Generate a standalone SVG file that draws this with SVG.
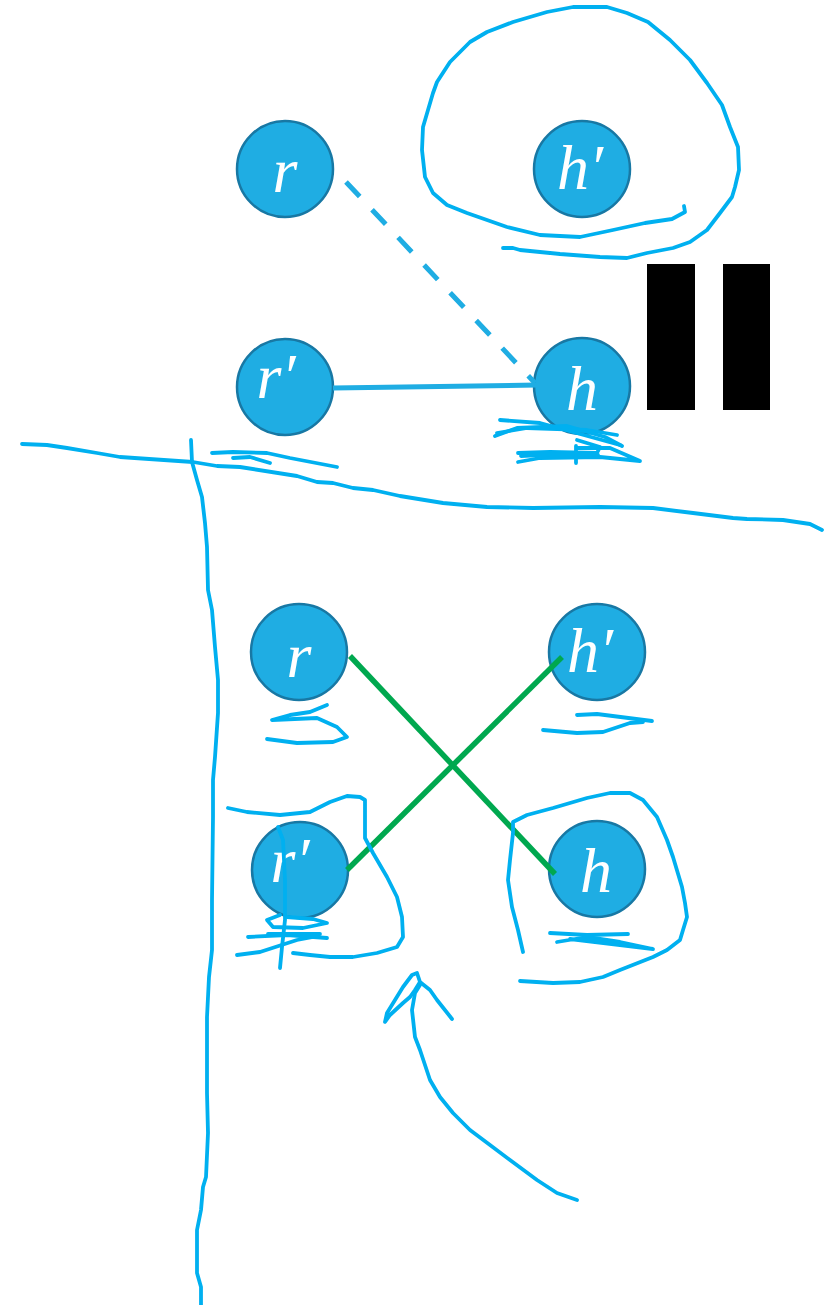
<svg xmlns="http://www.w3.org/2000/svg" width="826" height="1305" viewBox="0 0 826 1305">
  <style>
    .node circle { fill: #1fade3; stroke: #1878a4; stroke-width: 2.5; }
    .node text { fill: #ffffff; font-family: "Liberation Serif", "DejaVu Serif", serif; font-style: italic; font-size: 64px; text-anchor: middle; }
    .ink { fill: none; stroke: #00b0f0; stroke-width: 3.8; stroke-linecap: round; stroke-linejoin: round; }
    .edge { fill: none; stroke: #1fade3; stroke-width: 5; }
    .dash { stroke-dasharray: 20 18; }
    .green { fill: none; stroke: #00a84f; stroke-width: 5.5; }
    .bar { fill: #000000; }
  </style>

  <rect width="826" height="1305" fill="#ffffff"/>

  <!-- upper panel nodes -->
  <g id="node-r-top" class="node">
    <circle cx="285" cy="169" r="48"/>
    <text x="285" y="192">r</text>
  </g>
  <g id="node-hp-top" class="node">
    <circle cx="582" cy="169" r="48"/>
    <text x="580" y="189">h′</text>
  </g>
  <g id="node-rp-top" class="node">
    <circle cx="285" cy="387" r="48"/>
    <text x="276" y="398">r′</text>
  </g>
  <g id="node-h-top" class="node">
    <circle cx="582" cy="386" r="48"/>
    <text x="582" y="410">h</text>
  </g>

  <!-- lower panel nodes -->
  <g id="node-r-bottom" class="node">
    <circle cx="299" cy="652" r="48"/>
    <text x="299" y="677">r</text>
  </g>
  <g id="node-hp-bottom" class="node">
    <circle cx="597" cy="652" r="48"/>
    <text x="590" y="672">h′</text>
  </g>
  <g id="node-rp-bottom" class="node">
    <circle cx="300" cy="870" r="48"/>
    <text x="290" y="882">r′</text>
  </g>
  <g id="node-h-bottom" class="node">
    <circle cx="597" cy="869" r="48"/>
    <text x="596" y="892">h</text>
  </g>

  <!-- connectors, drawn over the node discs -->
  <g id="connectors">
    <line class="edge dash" x1="346" y1="182" x2="535" y2="383"/>
    <line class="edge" x1="333" y1="388" x2="537" y2="385"/>
    <line class="green" x1="350" y1="656" x2="555" y2="874"/>
    <line class="green" x1="562" y1="657" x2="347" y2="870"/>
  </g>

  <!-- equals sign, rotated -->
  <g id="equals">
    <rect class="bar" x="647" y="264" width="48" height="146"/>
    <rect class="bar" x="723" y="264" width="47" height="146"/>
  </g>

  <!-- hand-drawn pen strokes -->
  <g id="ink">
    <!-- loop around h' -->
    <polyline class="ink" points="684,206 685,212 672,219 645,223 613,230 580,237 540,235 507,227 467,213 447,205 433,193 425,177 422,150 423,127 433,93 437,82 450,62 460,52 470,42 487,32 513,22 547,12 573,7 607,7 627,13 648,22 670,40 690,60 707,83 722,105 730,127 738,147 739,170 735,187 732,197 720,213 707,230 690,242 673,248 647,253 627,258 600,257 560,254 520,250 513,248 503,248"/>

    <!-- horizontal divider -->
    <polyline class="ink" points="22,444 47,445 67,448 97,453 120,457 193,462 217,466 240,467 297,476 317,482 333,483 353,488 373,490 400,496 443,503 487,507 533,508 600,507 653,508 693,513 733,518 747,519 783,520 810,524 822,530"/>

    <!-- vertical divider -->
    <polyline class="ink" points="191,440 192,462 197,480 202,497 205,523 207,547 208,590 212,610 215,647 218,680 218,713 215,757 213,780 213,817 212,900 212,950 209,977 207,1017 207,1093 208,1133 206,1177 203,1187 201,1210 197,1230 197,1273 201,1287 201,1305"/>

    <!-- underline below top r' -->
    <polyline class="ink" points="212,453 233,452 267,453 290,458 337,467"/>
    <polyline class="ink" points="233,458 250,457 270,463"/>

    <!-- scribble below top h -->
    <polyline class="ink" points="500,420 540,423 573,432 620,445"/>
    <polyline class="ink" points="497,433 527,428 587,430 617,435"/>
    <polyline class="ink" points="495,436 517,428 567,426 605,437 622,446"/>
    <polyline class="ink" points="518,453 550,452 597,453 600,447 577,440"/>
    <polyline class="ink" points="518,462 540,458 600,457 640,461 610,448 577,448"/>
    <polyline class="ink" points="521,456 560,454 598,455"/>
    <polyline class="ink" points="576,446 576,463"/>

    <!-- underlines below bottom r -->
    <polyline class="ink" points="327,705 310,712 290,715 272,720 317,718 337,727 347,737 333,742 297,743 267,739"/>

    <!-- underlines below bottom h' -->
    <polyline class="ink" points="577,715 597,714 652,721"/>
    <polyline class="ink" points="543,730 577,733 603,732 630,723 643,722"/>

    <!-- loop and scribbles round bottom r' -->
    <polyline class="ink" points="228,808 247,812 280,815 310,812 330,802 347,796 360,797 365,800 365,838 373,853 387,877 397,897 402,917 403,937 397,947 377,953 353,957 330,957 310,955 293,953"/>
    <polyline class="ink" points="278,827 283,840 285,880 285,920 282,947 280,968"/>
    <polyline class="ink" points="287,917 313,919 327,923 303,928 273,927 267,920 280,915"/>
    <polyline class="ink" points="248,937 287,935 327,938"/>
    <polyline class="ink" points="268,934 320,934"/>
    <polyline class="ink" points="237,955 260,952 297,940 313,937"/>

    <!-- loop and scribbles round bottom h -->
    <polyline class="ink" points="523,952 518,930 512,907 508,880 510,860 513,833 513,822 527,815 553,808 587,798 610,793 630,793 643,800 657,817 667,840 673,857 682,887 685,903 687,917 683,930 680,940 667,950 653,957 620,970 603,977 580,982 553,983 520,981"/>
    <polyline class="ink" points="550,933 587,935 628,934"/>
    <polyline class="ink" points="557,942 587,937 620,942 653,949 620,945 570,939"/>

    <!-- curved arrow pointing up -->
    <polyline class="ink" points="577,1200 557,1193 537,1180 510,1160 490,1145 470,1130 453,1113 440,1097 430,1080 420,1050 415,1037 412,1010 415,993 420,985"/>
    <polyline class="ink" points="420,982 417,973 412,975 403,987 395,1000 387,1013 385,1022 390,1015 403,1003 410,997 415,990 420,982 430,990 437,1000 452,1019"/>
  </g>
</svg>
